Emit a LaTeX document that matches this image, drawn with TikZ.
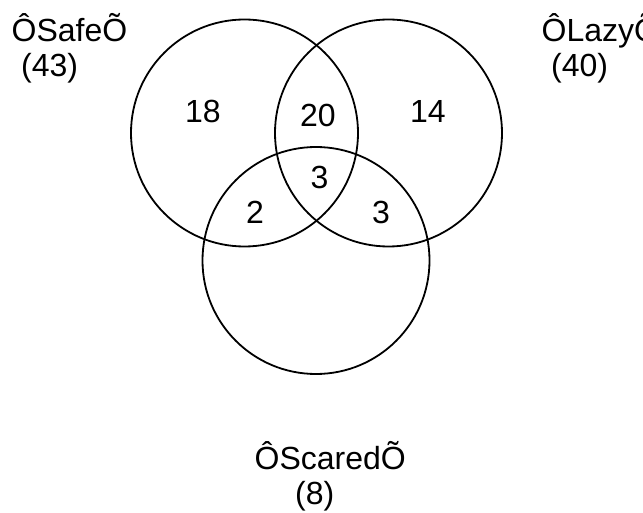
\documentclass[tikz,border=0pt]{standalone}
\usepackage{fontspec}
\setmainfont{Liberation Sans}
\begin{document}
\begin{tikzpicture}[x=1pt,y=-1pt,
  ring/.style={draw=black,line width=1.8pt},
  count/.style={inner sep=0pt,anchor=base,font=\fontsize{32}{38}\selectfont},
  setname/.style={inner sep=0pt,anchor=base west,font=\fontsize{32}{38}\selectfont}]
  \useasboundingbox (0,0) rectangle (643,513);
  \clip (0,0) rectangle (643,513);
  % the three sets
  \draw[ring] (244.5,133) circle[radius=113.5];
  \draw[ring] (388.5,133) circle[radius=113.5];
  \draw[ring] (316,260.5) circle[radius=113.5];
  % region counts
  \node[count] (n18) at (203,123) {18};
  \node[count] (n20) at (318,127) {20};
  \node[count] (n14) at (428,123) {14};
  \node[count] (n3c) at (319.5,189) {3};
  \node[count] (n2) at (255,224) {2};
  \node[count] (n3r) at (381,224) {3};
  % set names and totals
  \node[setname] (safe) at (11.5,42) {ÔSafeÕ};
  \node[setname] (safen) at (21,77) {(43)};
  \node[setname] (lazy) at (541.5,42) {ÔLazyÕ};
  \node[setname] (lazyn) at (551,77) {(40)};
  \node[setname] (scared) at (254.5,469) {ÔScaredÕ};
  \node[setname] (scaredn) at (295,504) {(8)};
\end{tikzpicture}
\end{document}
